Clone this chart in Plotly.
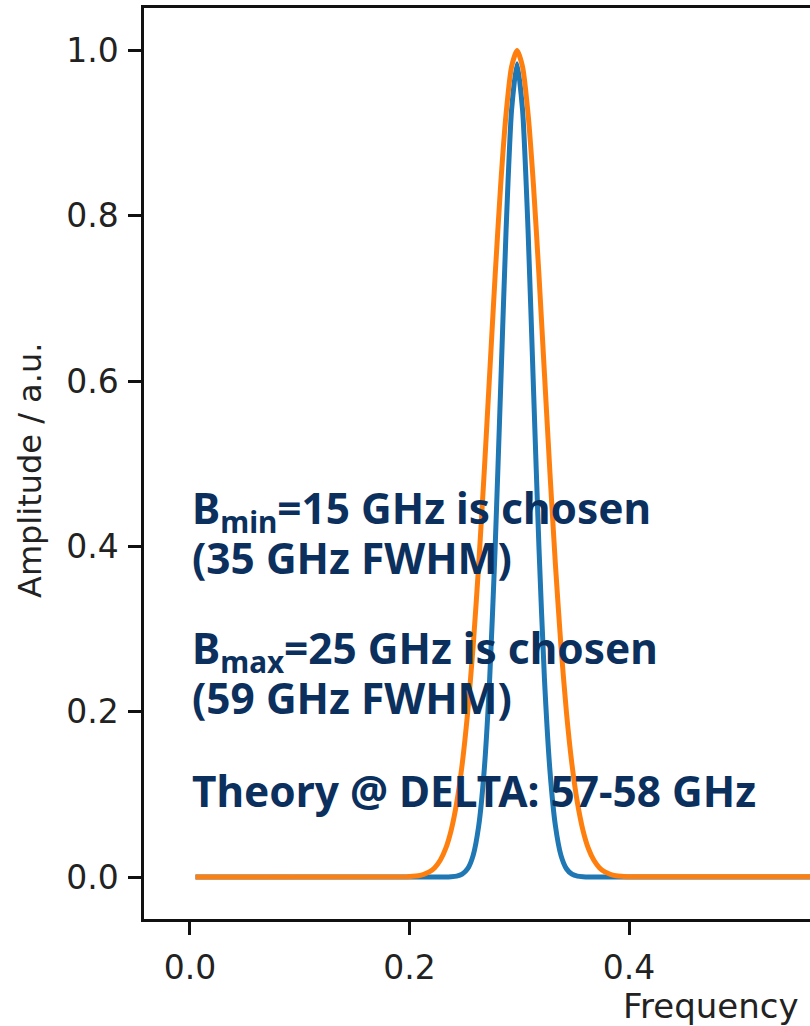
import plotly.graph_objects as go

# ---- data ----
freq = [0.005,
        0.198, 0.203, 0.208, 0.213, 0.218, 0.223, 0.228, 0.233, 0.238, 0.243,
        0.248, 0.253, 0.258, 0.263, 0.268, 0.273, 0.278, 0.283, 0.288, 0.293,
        0.298,
        0.303, 0.308, 0.313, 0.318, 0.323, 0.328, 0.333, 0.338, 0.343, 0.348,
        0.353, 0.358, 0.363, 0.368, 0.373, 0.378, 0.383, 0.388, 0.393, 0.398,
        0.950]

amp_bmin = [0.0,
            0.0, 0.0, 0.0, 0.0, 0.0, 0.0, 0.0, 0.0, 0.0003, 0.0010,
            0.0034, 0.0100, 0.0262, 0.0614, 0.128, 0.2385, 0.397, 0.590, 0.783, 0.928,
            0.984,
            0.928, 0.783, 0.590, 0.397, 0.2385, 0.128, 0.0614, 0.0262, 0.0100, 0.0034,
            0.0010, 0.0003, 0.0, 0.0, 0.0, 0.0, 0.0, 0.0, 0.0, 0.0,
            0.0]

amp_bmax = [0.0,
            0.0004, 0.0008, 0.0016, 0.0032, 0.0061, 0.0113, 0.0202, 0.0345, 0.0568, 0.0898,
            0.1364, 0.1992, 0.2795, 0.3768, 0.4881, 0.6077, 0.7271, 0.8359, 0.9234, 0.9803,
            1.0,
            0.9803, 0.9234, 0.8359, 0.7271, 0.6077, 0.4881, 0.3768, 0.2795, 0.1992, 0.1364,
            0.0898, 0.0568, 0.0345, 0.0202, 0.0113, 0.0061, 0.0032, 0.0016, 0.0008, 0.0004,
            0.0]

x_ticks = [0.0, 0.2, 0.4]
y_ticks = [0.0, 0.2, 0.4, 0.6, 0.8, 1.0]

notes = [
    "B<sub>min</sub>=15 GHz is chosen",
    "(35 GHz FWHM)",
    "B<sub>max</sub>=25 GHz is chosen",
    "(59 GHz FWHM)",
    "Theory @ DELTA: 57-58 GHz",
]

# ---- layout geometry ----
W, H = 810, 1026
L, R, T, B = 144, 0, 8, 107

def px(xp):
    return (xp - L) / (W - L - R)

def py(yp):
    return (H - B - yp) / (H - T - B)

fig = go.Figure()
fig.add_trace(go.Scatter(x=freq, y=amp_bmin, mode="lines",
                         line=dict(color="#1f77b4", width=5, shape="spline", smoothing=0.6)))
fig.add_trace(go.Scatter(x=freq, y=amp_bmax, mode="lines",
                         line=dict(color="#ff7f0e", width=5, shape="spline", smoothing=0.6)))

tickfont = dict(family="DejaVu Sans", size=33, color="#222222")
axis_common = dict(showline=True, linecolor="#111111", linewidth=2.5,
                   ticks="outside", ticklen=13, tickwidth=2.5, tickcolor="#111111",
                   showgrid=False, zeroline=False, tickfont=tickfont,
                   tickformat=".1f")

fig.update_layout(
    width=W, height=H,
    margin=dict(l=L, r=R, t=T, b=B, pad=0),
    paper_bgcolor="white", plot_bgcolor="white",
    showlegend=False,
    xaxis=dict(range=[-0.0419, 0.5649], tickvals=x_ticks, mirror=True,
               ticklabelstandoff=5, **axis_common),
    yaxis=dict(range=[-0.0508, 1.0513], tickvals=y_ticks,
               ticklabelstandoff=3, **axis_common),
)

# axis titles
fig.add_annotation(text="Frequency", xref="paper", yref="paper",
                   x=px(711), y=py(1006), xanchor="center", yanchor="middle",
                   showarrow=False, font=dict(family="DejaVu Sans", size=34, color="#222222"))
fig.add_annotation(text="Amplitude / a.u.", xref="paper", yref="paper",
                   x=px(30), y=py(471), xanchor="center", yanchor="middle",
                   textangle=-90, showarrow=False,
                   font=dict(family="DejaVu Sans", size=32, color="#222222"))

note_font = dict(family="Noto Sans", size=42.4, color="#0b305e", weight="bold")
note_y = [510, 557, 650, 697, 790]
for txt, yy in zip(notes, note_y):
    fig.add_annotation(text=txt, xref="paper", yref="paper",
                       x=px(190), y=py(yy), xanchor="left", yanchor="middle",
                       showarrow=False, font=note_font)

fig.write_html("out.html")
